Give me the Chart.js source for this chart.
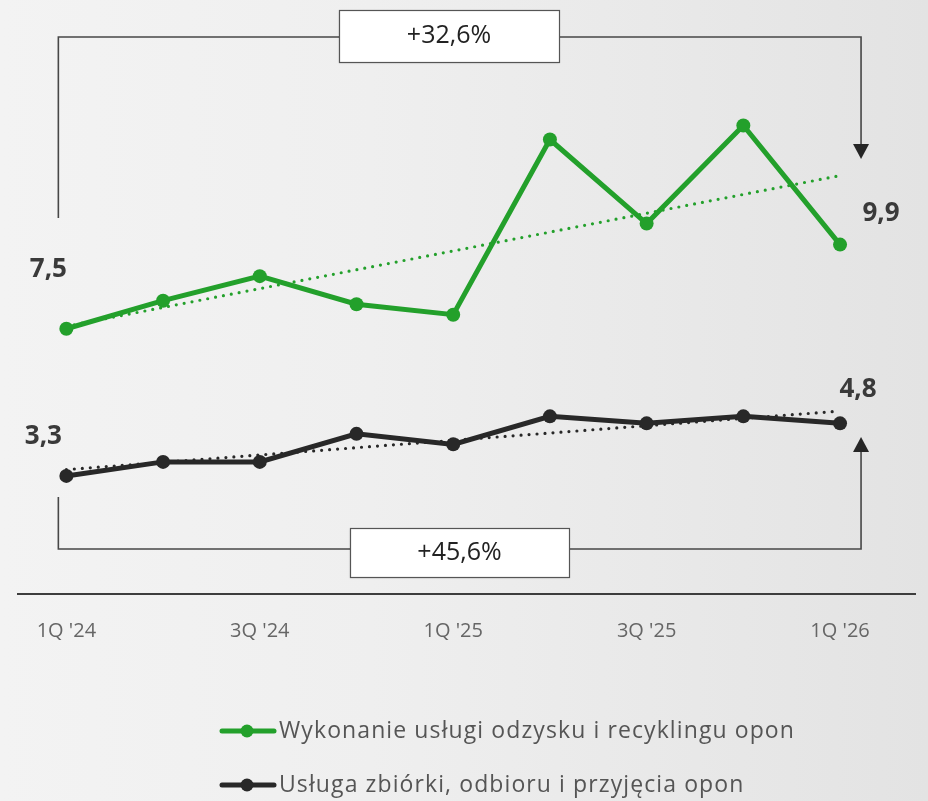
<!DOCTYPE html>
<html>
<head>
<meta charset="utf-8">
<script src="https://cdn.jsdelivr.net/npm/chart.js@4.4.1/dist/chart.umd.min.js"></script>
<style>
  html, body { margin: 0; padding: 0; }
  body { width: 928px; height: 801px; overflow: hidden;
         background: linear-gradient(90deg, #f3f3f3 0%, #efefef 40%, #e3e3e3 100%); }
  #wrap { width: 928px; height: 801px; position: relative; }
</style>
</head>
<body>
<div id="wrap"><canvas id="c"></canvas></div>
<script>
// ---- data ----
const categories = ["1Q '24", "2Q '24", "3Q '24", "4Q '24", "1Q '25", "2Q '25", "3Q '25", "4Q '25", "1Q '26"];
const recyclingValues = [7.5, 8.3, 9.0, 8.2, 7.9, 12.9, 10.5, 13.3, 9.9];
const collectionValues = [3.3, 3.7, 3.7, 4.5, 4.2, 5.0, 4.8, 5.0, 4.8];
const recyclingTrend = [7.57, 11.87];   // trend line start / end
const collectionTrend = [3.48, 5.15];
const seriesNames = ["Wykonanie usługi odzysku i recyklingu opon", "Usługa zbiórki, odbioru i przyjęcia opon"];
const changeLabels = ["+32,6%", "+45,6%"];
const shownTicks = [0, 2, 4, 6, 8];

const GREEN = '#23a02b';
const DARK = '#282828';
const FONT = "'Open Sans', 'DejaVu Sans', sans-serif";

const toPoints = arr => arr.map((v, i) => ({ x: i, y: v }));
const trendPoints = t => [{ x: 0, y: t[0] }, { x: categories.length - 1, y: t[1] }];
const fmt = v => v.toFixed(1).replace('.', ',');

const overlay = {
  id: 'overlay',
  afterDatasetsDraw(chart) {
    const { ctx, scales: { x, y } } = chart;
    const last = categories.length - 1;
    const xL = x.getPixelForValue(0) - 8;
    const xR = x.getPixelForValue(last) + 21;

    ctx.save();
    ctx.strokeStyle = '#474747';
    ctx.fillStyle = '#262626';
    ctx.lineWidth = 1.6;

    // top bracket (green series)
    ctx.beginPath();
    ctx.moveTo(xL, 218); ctx.lineTo(xL, 37); ctx.lineTo(xR, 37); ctx.lineTo(xR, 146);
    ctx.stroke();
    ctx.beginPath();
    ctx.moveTo(xR - 8, 144); ctx.lineTo(xR + 8, 144); ctx.lineTo(xR, 159); ctx.closePath();
    ctx.fill();

    // bottom bracket (dark series)
    ctx.beginPath();
    ctx.moveTo(xL, 497); ctx.lineTo(xL, 549); ctx.lineTo(xR, 549); ctx.lineTo(xR, 450);
    ctx.stroke();
    ctx.beginPath();
    ctx.moveTo(xR - 8, 452); ctx.lineTo(xR + 8, 452); ctx.lineTo(xR, 437); ctx.closePath();
    ctx.fill();

    // boxes
    const box = (x0, y0, w, h, text) => {
      ctx.save();
      ctx.shadowColor = 'rgba(0,0,0,0.15)';
      ctx.shadowBlur = 2; ctx.shadowOffsetY = 1;
      ctx.fillStyle = '#ffffff';
      ctx.fillRect(x0, y0, w, h);
      ctx.restore();
      ctx.strokeStyle = '#555';
      ctx.lineWidth = 1.2;
      ctx.strokeRect(x0 + 0.5, y0 + 0.5, w, h);
      ctx.fillStyle = '#222';
      ctx.font = "400 25px " + FONT;
      ctx.textAlign = 'center';
      ctx.textBaseline = 'middle';
      ctx.fillText(text, x0 + w / 2, y0 + h / 2);
    };
    box(339, 10, 220, 52, changeLabels[0]);
    box(350, 528, 219, 49, changeLabels[1]);

    // value labels
    ctx.fillStyle = '#3a3a3a';
    ctx.font = "700 26px " + FONT;
    ctx.textAlign = 'center';
    ctx.textBaseline = 'middle';
    const lbl = (vals, idx, dx, dy) => {
      ctx.fillText(fmt(vals[idx]), x.getPixelForValue(idx) + dx, y.getPixelForValue(vals[idx]) + dy);
    };
    lbl(recyclingValues, 0, -18, -59);
    lbl(recyclingValues, last, 41, -31);
    lbl(collectionValues, 0, -23, -39);
    lbl(collectionValues, last, 18, -34);

    // legend
    const leg = (color, text, yy) => {
      ctx.strokeStyle = color;
      ctx.fillStyle = color;
      ctx.lineWidth = 5;
      ctx.lineCap = 'round';
      ctx.beginPath(); ctx.moveTo(222, yy); ctx.lineTo(274, yy); ctx.stroke();
      ctx.beginPath(); ctx.arc(247, yy, 6.5, 0, Math.PI * 2); ctx.fill();
      ctx.fillStyle = '#555';
      ctx.font = "400 23px " + FONT;
      ctx.letterSpacing = '1.1px';
      ctx.textAlign = 'left';
      ctx.textBaseline = 'middle';
      ctx.fillText(text, 279, yy);
      ctx.letterSpacing = '0px';
    };
    leg(GREEN, seriesNames[0], 731);
    leg(DARK, seriesNames[1], 785);
    ctx.restore();
  }
};

new Chart(document.getElementById('c'), {
  type: 'line',
  data: {
    datasets: [
      { label: seriesNames[0], data: toPoints(recyclingValues), borderColor: GREEN, backgroundColor: GREEN,
        borderWidth: 5, pointRadius: 7, pointBorderWidth: 0, pointBackgroundColor: GREEN, order: 0, clip: false },
      { label: seriesNames[1], data: toPoints(collectionValues), borderColor: DARK, backgroundColor: DARK,
        borderWidth: 5, pointRadius: 7, pointBorderWidth: 0, pointBackgroundColor: DARK, order: 0, clip: false },
      { label: 'trend1', data: trendPoints(recyclingTrend), borderColor: GREEN, borderWidth: 3.2,
        borderDash: [0, 8], borderCapStyle: 'round', pointRadius: 0, order: 1, clip: false },
      { label: 'trend2', data: trendPoints(collectionTrend), borderColor: DARK, borderWidth: 3.2,
        borderDash: [0, 8], borderCapStyle: 'round', pointRadius: 0, order: 1, clip: false }
    ]
  },
  options: {
    responsive: true,
    maintainAspectRatio: false,
    animation: false,
    layout: { padding: { top: 20, left: 18, right: 13, bottom: 0 } },
    plugins: { legend: { display: false }, tooltip: { enabled: false } },
    scales: {
      x: {
        type: 'linear', min: -0.5, max: 8.775,
        afterBuildTicks: s => { s.ticks = shownTicks.map(v => ({ value: v })); },
        afterFit: s => { s.height = 207; },
        grid: { display: false, drawTicks: false, tickLength: 0 },
        border: { display: true, color: '#3d3d3d', width: 2 },
        ticks: { padding: 25, color: '#666', font: { family: FONT, size: 20, weight: '400' },
                 maxRotation: 0, autoSkip: false, callback: v => categories[v] }
      },
      y: { display: false, min: -0.07, max: 16.31 }
    }
  },
  plugins: [overlay]
});
</script>
</body>
</html>
